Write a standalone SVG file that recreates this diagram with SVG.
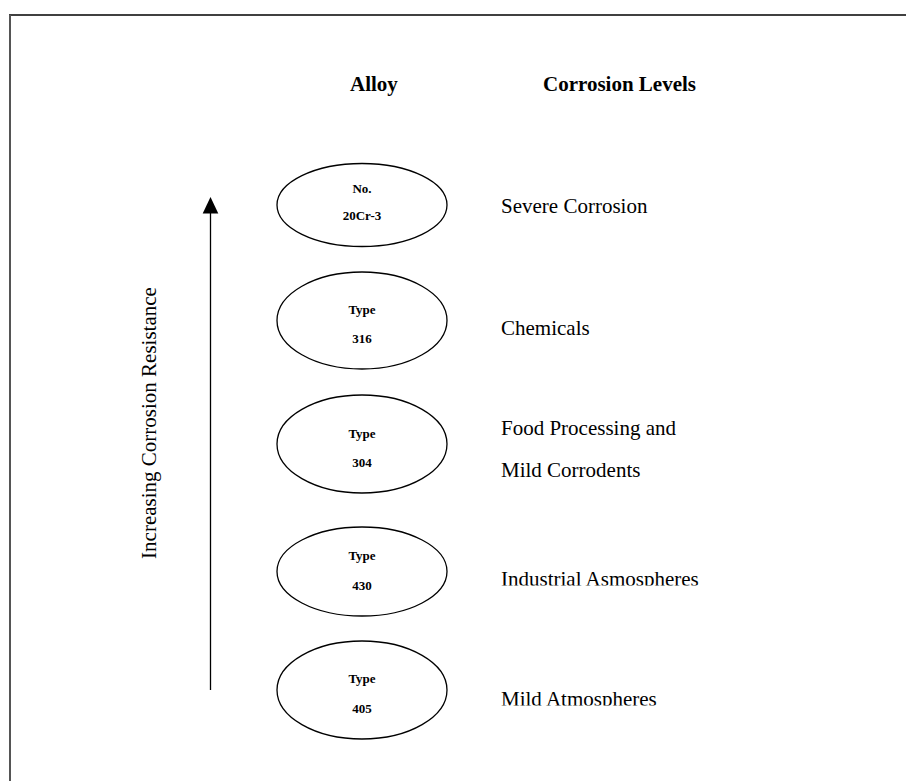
<svg xmlns="http://www.w3.org/2000/svg" width="906" height="781" viewBox="0 0 906 781">
<style>
.node ellipse{fill:#fff;stroke:#000;stroke-width:1.3}
.nt{font-family:"Liberation Serif","Times New Roman",serif;font-weight:bold;font-size:13px;text-anchor:middle;fill:#000}
.lbl{font-family:"Liberation Serif","Times New Roman",serif;font-size:21px;fill:#000}
.hdr{font-family:"Liberation Serif","Times New Roman",serif;font-size:21px;font-weight:bold;fill:#000}
</style>
<defs>
<clipPath id="c1"><rect x="480" y="180" width="300" height="33"/></clipPath>
<clipPath id="c4"><rect x="480" y="550" width="300" height="35.5"/></clipPath>
<clipPath id="c5"><rect x="480" y="670" width="300" height="35.5"/></clipPath>
</defs>
<rect width="906" height="781" fill="#fff"/>
<g id="frame">
<line x1="9" y1="15" x2="906" y2="15" stroke="#000" stroke-width="1.4"/>
<line x1="10" y1="15" x2="10" y2="781" stroke="#555" stroke-width="2"/>
</g>
<g id="headers">
<text class="hdr" x="350" y="91">Alloy</text>
<text class="hdr" x="543" y="91">Corrosion Levels</text>
</g>
<g id="connectors">
<line x1="210.5" y1="690" x2="210.5" y2="213" stroke="#000" stroke-width="1.3"/>
<path d="M210.5,197 L202.7,213.5 L218.3,213.5 Z" fill="#000"/>
</g>
<text class="lbl" transform="translate(156,423) rotate(-90)" text-anchor="middle">Increasing Corrosion Resistance</text>
<g id="n1" class="node">
<ellipse cx="362" cy="205" rx="85" ry="41.5"/>
<text class="nt" x="362" y="192.5">No.</text>
<text class="nt" x="362" y="220">20Cr-3</text>
</g>
<g id="n2" class="node">
<ellipse cx="362" cy="320.5" rx="85" ry="48.5"/>
<text class="nt" x="362" y="314">Type</text>
<text class="nt" x="362" y="343">316</text>
</g>
<g id="n3" class="node">
<ellipse cx="362" cy="444" rx="85" ry="49"/>
<text class="nt" x="362" y="437.5">Type</text>
<text class="nt" x="362" y="467">304</text>
</g>
<g id="n4" class="node">
<ellipse cx="362" cy="571.5" rx="85" ry="44.5"/>
<text class="nt" x="362" y="560">Type</text>
<text class="nt" x="362" y="590">430</text>
</g>
<g id="n5" class="node">
<ellipse cx="362" cy="690" rx="85" ry="49"/>
<text class="nt" x="362" y="683">Type</text>
<text class="nt" x="362" y="713">405</text>
</g>
<g id="labels">
<text class="lbl" x="501" y="213" clip-path="url(#c1)">Severe Corrosion</text>
<text class="lbl" x="501" y="335">Chemicals</text>
<text class="lbl" x="501" y="435">Food Processing and</text>
<text class="lbl" x="501" y="477">Mild Corrodents</text>
<text class="lbl" x="501" y="586" clip-path="url(#c4)">Industrial Asmospheres</text>
<text class="lbl" x="501" y="706" clip-path="url(#c5)">Mild Atmospheres</text>
</g>
</svg>
